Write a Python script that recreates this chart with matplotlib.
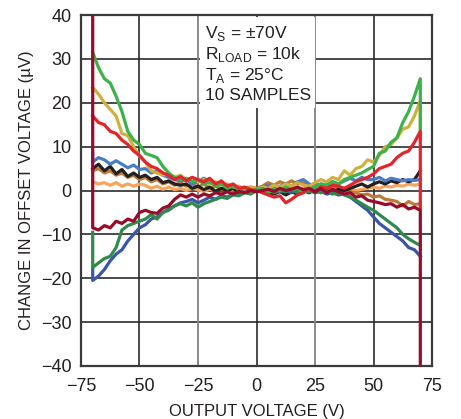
import matplotlib
matplotlib.use('Agg')
import matplotlib.pyplot as plt
from matplotlib.patches import Rectangle

plt.rcParams['font.family'] = ['Liberation Sans', 'DejaVu Sans']
plt.rcParams['axes.unicode_minus'] = True

# output voltage, V
volts = [-70, -67.5, -65, -62.5, -60, -57.5, -55, -52.5,
         -50, -47.5, -45, -42.5, -40, -37.5, -35, -32.5,
         -30, -27.5, -25, -22.5, -20, -17.5, -15, -12.5,
         -10, -7.5, -5, -2.5, 0, 2.5, 5, 7.5,
         10, 12.5, 15, 17.5, 20, 22.5, 25, 27.5,
         30, 32.5, 35, 37.5, 40, 42.5, 45, 47.5,
         50, 52.5, 55, 57.5, 60, 62.5, 65, 67.5,
         70]

# change in offset voltage, uV (one list per sample)
green = [31.5, 28, 25.5, 24.5, 21.5, 18, 13.5, 11.5,
         10.5, 8.5, 8, 7.5, 5.5, 4, 3, 2.5,
         2.8, 2, 2.5, 1.5, 2, 1, 1.5, 0.5,
         1, 0.2, 0.5, -0.3, 0.2, 0.5, -0.5, 0.3,
         0, 0.8, 0.2, 0.5, -0.5, 0.3, 0.8, 1.5,
         1.2, 2, 1.5, 2.5, 3, 3.5, 4, 4.8,
         5.5, 8.5, 9, 11, 12, 15.5, 18, 21.5,
         25.5]
gold = [23.5, 22, 20, 18.5, 17, 13, 12.5, 10,
        7.8, 6.5, 4.5, 4, 3.5, 3.8, 3, 3.5,
        2.5, 3, 2, 2.5, 1.5, 2, 1.2, 1.5,
        0.8, 1, 0.3, 0.8, 0.2, 0.8, 0.5, 1.2,
        0.8, 1.5, 1, 1.8, 1.2, 1, 1.8, 2.5,
        2, 3, 2.5, 4.5, 3.5, 5, 5.5, 7,
        6.5, 8, 10, 10.5, 12, 14, 14.5, 17,
        20.5]
red = [17, 15.5, 15, 13.5, 13, 11.5, 10.5, 9,
       8, 6.5, 5.5, 5, 4, 3.5, 2.5, 3.2,
       2.2, 3, 2.5, 2, 2.8, 1.5, 2.2, 1,
       1.5, 0.5, 0.8, 0.2, 0, -0.5, -1, -1.5,
       -1.2, -2.8, -2, -1, -0.5, 0.5, -0.3, 0.8,
       0.5, 1.2, 1, 0.5, 1.2, 2, 2.5, 3,
       3.8, 5, 5.5, 6, 7.5, 8.5, 9, 11,
       13.5]
blue = [6.5, 7.5, 7, 6, 6.8, 6, 5.2, 5.8,
        4.8, 5, 4, 4.5, 3.5, 3, 2.5, 2.2,
        2.5, 1.5, 2, 2.8, 2, 1.2, 1.5, 0.8,
        1, 0.5, 0, 0.5, 0.3, 0.8, 1.2, 0.5,
        1, 1.5, 1, 2, 2.5, 1.5, 1, 1.5,
        1.2, 2, 1.5, 2.2, 2.8, 2.2, 3, 2.5,
        2.5, 3, 2.2, 2.8, 2.5, 2.2, 2.5, 2.3,
        2.5]
black = [5, 6, 4.5, 5.5, 3.8, 4.8, 3.2, 4,
         3, 3.5, 2.5, 3, 1.8, 2.2, 1.5, 1.2,
         1.5, 0.5, 1, 0.2, 0.8, -0.2, 0.5, 0,
         0.5, -0.5, 0, 0.3, -0.2, 0.3, -0.5, -0.8,
         -0.2, -1, -0.3, -0.8, 0, -0.5, 0.2, -0.3,
         0, -0.5, 0.3, 0, 0.5, 1, 1.5, 0.8,
         1.5, 2, 1.5, 2.2, 1.8, 2.5, 2, 2.5,
         4.5]
brown = [4.5, 5, 4, 4.5, 3.5, 4, 3, 3.5,
         2.5, 3, 2, 2.5, 1.5, 2, 1.2, 1.8,
         1, 1.5, 0.8, 1.5, 0.5, 1, 0.3, 1,
         0.5, 0, 0.5, 0.8, 0.5, 1, 1.8, 1.2,
         2, 1.5, 2.2, 1.5, 1.8, 1, 1.5, 1.2,
         1, 0.5, 0.8, 0, -0.3, -0.5, -1, -0.8,
         -1.5, -1.2, -2, -2.2, -2.5, -3.5, -2.5, -3.2,
         -3]
orange = [2, 1.5, 1.8, 1.2, 1.8, 1, 1.5, 1,
          1.5, 1.2, 0.5, 1, 0.3, 0.8, 0.2, 0.5,
          0, 0.5, 0.2, -0.2, 0.3, 0, 0.5, -0.2,
          0.2, 0, 0.3, -0.2, 0, 0.3, 0, 0.5,
          0.2, 0.5, 0, 0.3, 0.5, 0.2, 0.5, 0.8,
          0.5, 0.3, 0.8, 0.5, 0.5, 0, 0.3, 0.5,
          0.8, 0.5, 1, 0.8, 1.2, 1, 1.5, 1.2,
          1.5]
darkred = [-8.5, -9, -8, -8.5, -7, -7.5, -6.5, -7,
           -5, -4.5, -5, -5.2, -4, -3.5, -2, -1,
           -1.5, -0.8, -1.5, -0.8, -1.2, -0.5, -0.8, -0.3,
           -0.8, -0.2, -0.5, 0, -0.3, 0, 0.3, -0.2,
           0.5, 0, 0.3, 0.8, 0.2, 0.5, -0.3, 0.5,
           -0.5, 0.3, -0.3, -0.8, -0.5, -1.5, -1.2, -2.2,
           -2.5, -2.8, -3.2, -3, -3.8, -3.2, -4.2, -3.8,
           -4.5]
darkgreen = [-17.5, -16.5, -15.5, -15, -13, -9, -8, -7.5,
             -7, -6.5, -5.5, -6.5, -5, -4.5, -3.5, -3,
             -3.5, -2.8, -3.8, -3, -2.5, -2, -1.5, -1.8,
             -1, -1.2, -0.5, -0.8, 0, -0.3, 0.2, -0.5,
             0, -0.3, 0.2, -0.5, 0, -0.3, 0.2, -0.5,
             -0.2, -0.8, -0.5, -1, -1.5, -2.2, -3, -3.8,
             -4.5, -5.5, -6.5, -7.5, -8.5, -10, -11, -11.8,
             -12.5]
darkblue = [-20.5, -19.5, -18, -16, -14.5, -13.5, -11.5, -10,
            -8.5, -7.8, -6.5, -6, -5, -4.2, -3.5, -2.8,
            -2.5, -2, -2.8, -2.2, -1.5, -2, -1.2, -1.5,
            -0.8, -1, -0.3, -0.5, 0, 0.3, -0.2, 0.2,
            -0.3, 0, -0.5, 0.2, -0.3, 0, -0.5, -0.2,
            -0.8, -0.5, -1, -0.8, -1.5, -2.5, -3.5, -4.5,
            -6, -7.5, -8.5, -9.5, -10.5, -11.5, -13, -13.5,
            -15]

# (data, colour, value where the sweep jumps in at -70 V, value it jumps to at +70 V)
samples = [
    (orange, '#f7a55e', None, None),
    (brown, '#bf7a35', None, None),
    (black, '#231f20', None, None),
    (blue, '#4a7dc4', 8.5, None),
    (darkblue, '#3a56a8', -17.5, None),
    (darkgreen, '#2f8a4c', -9.5, None),
    (gold, '#d2b03e', None, 12),
    (green, '#3db24a', None, 14),
    (red, '#e3242b', None, -4),
    (darkred, '#9a0a2a', 40, -40),
]

fig = plt.figure(figsize=(4.61, 4.19), dpi=100)
ax = fig.add_axes([0.1757, 0.1265, 0.7614, 0.8375])

for ys, col, start, end in samples:
    xs = list(volts)
    yy = list(ys)
    if start is not None:
        xs = [volts[0]] + xs
        yy = [start] + yy
    if end is not None:
        xs = xs + [volts[-1]]
        yy = yy + [end]
    ax.plot(xs, yy, color=col, lw=2.3, solid_joinstyle='round', zorder=3)

ax.set_xlim(-75, 75)
ax.set_ylim(-40, 40)
ax.set_xticks([-75, -50, -25, 0, 25, 50, 75])
ax.set_yticks(range(-40, 41, 10))

for v in [-30, -20, -10, 0, 10, 20, 30]:
    ax.axhline(v, color='#2b2b2b', lw=1.2, zorder=1)
for v in [-50, 0, 50]:
    ax.axvline(v, color='#2b2b2b', lw=1.2, zorder=1)
for v in [-25, 25]:
    ax.axvline(v, color='#8a8a8a', lw=1.4, zorder=1)

for s in ax.spines.values():
    s.set_color('#3a3a3a')
    s.set_linewidth(1.6)

ax.tick_params(length=0, labelsize=13, colors='#231f20')
ax.tick_params(axis='x', pad=9)
ax.tick_params(axis='y', pad=7)

ax.set_xlabel('OUTPUT VOLTAGE (V)', fontsize=12, color='#231f20', labelpad=6)
ax.set_ylabel('CHANGE IN OFFSET VOLTAGE (µV)', fontsize=12, color='#231f20', labelpad=5)

# conditions box
ax.add_patch(Rectangle((-24, 18.8), 49, 20.7, facecolor='white', edgecolor='none', zorder=2))
cond = [r'V$_\mathregular{S}$ = ±70V', r'R$_\mathregular{LOAD}$ = 10k',
        r'T$_\mathregular{A}$ = 25°C', '10 SAMPLES']
for i, t in enumerate(cond):
    ax.text(-22, 34.7 - 4.7 * i, t, fontsize=12.5, color='#231f20', va='baseline', ha='left', zorder=4)

plt.savefig('out.png', dpi=100)
